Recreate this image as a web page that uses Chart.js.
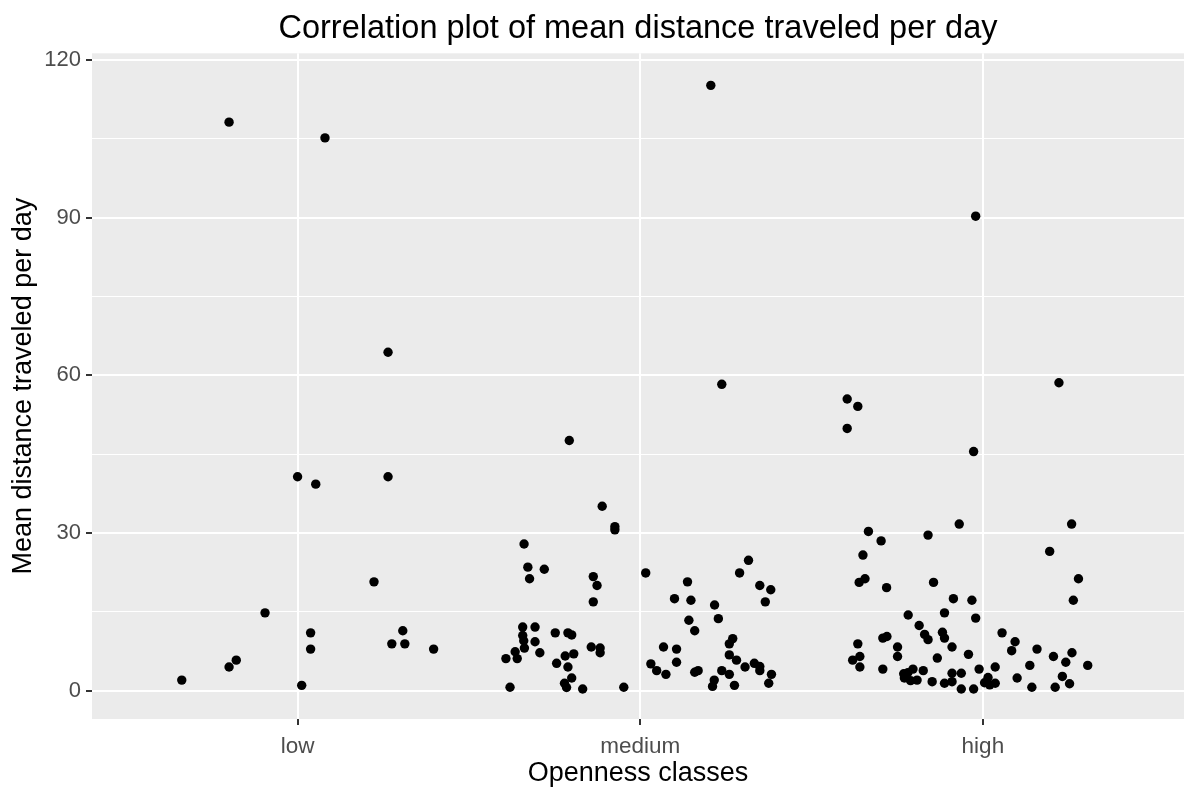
<!DOCTYPE html>
<html>
<head>
<meta charset="utf-8">
<script src="https://cdn.jsdelivr.net/npm/chart.js@4"></script>
<style>
  html, body { margin: 0; padding: 0; background: #ffffff; }
  #wrap { width: 1184px; height: 792px; }
</style>
</head>
<body>
<div id="wrap"><canvas id="chartDistance" width="1184" height="792"></canvas></div>
<script>
// Categories on the x axis (positions 1, 2, 3)
const categories = ['low', 'medium', 'high'];

// Each point: horizontal jitter around its category + mean distance per day
const lowJitter = [-0.20, 0.08, 0.264, 0.0, 0.053, 0.264, 0.223, -0.095, 0.038, 0.038,
  0.307, 0.275, 0.313, 0.397, -0.179, -0.20, -0.338, 0.012];
const lowDistance = [108.2, 105.2, 64.4, 40.7, 39.3, 40.7, 20.7, 14.8, 11.0, 7.9,
  11.4, 8.9, 8.9, 7.9, 5.8, 4.5, 2.0, 1.0];

const mediumJitter = [0.206, 0.238, -0.207, -0.111, -0.074, -0.074, -0.339, -0.328, -0.323, -0.280,
  -0.137, -0.126, -0.137, 0.016, 0.138, 0.100, 0.148, 0.217, 0.228, 0.142,
  0.159, 0.316, 0.290, 0.349, 0.381, 0.365,
  -0.343, -0.307, -0.343, -0.340, -0.307, -0.338, -0.365, -0.293, -0.392, -0.359,
  -0.380, -0.248, -0.211, -0.200, -0.143, -0.117, -0.117, -0.219, -0.194, -0.244,
  -0.211, -0.200, -0.221, -0.215, -0.168, -0.048,
  0.068, 0.106, 0.106, 0.031, 0.048, 0.075, 0.159, 0.169, 0.216, 0.211,
  0.275, 0.238, 0.260, 0.270, 0.260, 0.260, 0.281, 0.306, 0.333, 0.349,
  0.349, 0.383, 0.375];
const mediumDistance = [115.2, 58.3, 47.6, 35.1, 31.2, 30.6, 27.9, 23.5, 21.3, 23.1,
  21.7, 20.0, 16.9, 22.4, 20.7, 17.5, 17.2, 16.3, 13.7, 13.4,
  11.4, 24.8, 22.4, 20.0, 19.2, 16.9,
  12.1, 12.1, 10.5, 9.5, 9.3, 8.1, 7.4, 7.2, 6.1, 6.1,
  0.65, 11.0, 11.0, 10.6, 8.3, 8.1, 7.2, 6.6, 7.0, 5.2,
  4.5, 2.4, 1.4, 0.6, 0.3, 0.65,
  8.3, 7.9, 5.4, 5.1, 3.8, 3.1, 3.5, 3.8, 2.0, 0.8,
  1.0, 3.8, 3.1, 9.9, 8.9, 6.8, 5.8, 4.5, 5.2, 4.6,
  3.8, 3.1, 1.4];

const highJitter = [-0.396, -0.365, -0.396, -0.027, 0.222, -0.021, -0.069, 0.259, -0.334, -0.297,
  -0.160, -0.350, 0.195, 0.279, -0.361, -0.344, -0.281, -0.144, 0.264, -0.086,
  -0.032, -0.021, -0.112, -0.218, -0.186, -0.170, -0.160, -0.118, -0.112, -0.090,
  -0.292, -0.280, -0.249, -0.249, -0.365, -0.359, -0.380, -0.359, -0.292, -0.231,
  -0.219, -0.204, -0.229, -0.211, -0.192, -0.174, -0.148, -0.133, -0.112, -0.090,
  -0.090, -0.063, -0.063, -0.042, -0.027, -0.011, 0.015, 0.020, 0.036, 0.005,
  0.036, 0.056, 0.094, 0.084, 0.158, 0.137, 0.100, 0.143, 0.206, 0.260,
  0.242, 0.306, 0.232, 0.253, 0.211];
const highDistance = [55.5, 54.1, 49.9, 45.5, 58.6, 90.3, 31.7, 31.7, 30.3, 28.5,
  29.6, 25.8, 26.5, 21.3, 20.6, 21.3, 19.6, 20.6, 17.2, 17.5,
  17.2, 13.8, 14.8, 14.4, 12.4, 10.7, 9.7, 11.1, 10.0, 8.3,
  10.0, 10.3, 8.3, 6.5, 8.9, 6.5, 5.8, 4.5, 4.1, 3.2,
  3.4, 4.1, 2.4, 1.9, 2.0, 3.8, 1.7, 6.2, 1.4, 3.3,
  1.7, 3.3, 0.3, 6.9, 0.3, 4.1, 2.5, 1.1, 1.4, 1.5,
  4.5, 11.0, 9.3, 7.6, 7.9, 4.8, 2.4, 0.65, 6.5, 7.2,
  5.4, 4.8, 2.7, 1.3, 0.65];

// Y axis ticks: labelled every 30, minor lines every 15
const yTicks = [0, 15, 30, 45, 60, 75, 90, 105, 120];
const yLabelStep = 30;

const FONT = "'Liberation Sans', Arial, sans-serif";

function buildPoints(categoryIndex, jitter, values) {
  return values.map((v, i) => ({ x: categoryIndex + 1 + jitter[i], y: v }));
}

// grey panel behind the grid, like ggplot
const panelBackground = {
  id: 'panelBackground',
  beforeDraw(chart) {
    const { ctx, chartArea: a } = chart;
    ctx.save();
    ctx.fillStyle = '#EBEBEB';
    ctx.fillRect(a.left, a.top, a.right - a.left, a.bottom - a.top);
    ctx.restore();
  }
};

const groups = [
  [lowJitter, lowDistance],
  [mediumJitter, mediumDistance],
  [highJitter, highDistance]
];

const datasets = groups.map((g, i) => ({
  label: categories[i],
  data: buildPoints(i, g[0], g[1]),
  backgroundColor: '#000000',
  borderWidth: 0,
  pointRadius: 4.7,
  pointHoverRadius: 4.7
}));

new Chart(document.getElementById('chartDistance').getContext('2d'), {
  type: 'scatter',
  data: { datasets: datasets },
  plugins: [panelBackground],
  options: {
    responsive: false,
    animation: false,
    layout: { padding: 0, autoPadding: false },
    plugins: {
      legend: { display: false },
      tooltip: { enabled: false },
      title: {
        display: true,
        text: 'Correlation plot of mean distance traveled per day',
        fullSize: false,
        color: '#000000',
        font: { family: FONT, size: 32.5, weight: 'normal' },
        padding: { top: 10, bottom: 4.3 }
      }
    },
    scales: {
      x: {
        type: 'linear',
        min: 0.4,
        max: 3.587,
        afterBuildTicks(scale) {
          scale.ticks = categories.map((c, i) => ({ value: i + 1 }));
        },
        afterFit(scale) {
          scale.height = 73;
          scale.paddingLeft = 0;
          scale.paddingRight = 0;
        },
        ticks: {
          autoSkip: false,
          maxRotation: 0,
          padding: 8,
          color: '#4D4D4D',
          font: { family: FONT, size: 22.5 },
          callback: (value) => categories[value - 1]
        },
        grid: {
          color: '#FFFFFF',
          lineWidth: 2,
          tickLength: 6,
          tickColor: '#333333',
          tickWidth: 2
        },
        border: { display: false },
        title: {
          display: true,
          text: 'Openness classes',
          color: '#000000',
          font: { family: FONT, size: 27 },
          padding: { top: 0, bottom: 2 }
        }
      },
      y: {
        type: 'linear',
        min: -5.4,
        max: 121.3,
        afterBuildTicks(scale) {
          scale.ticks = yTicks.map(v => ({ value: v }));
        },
        afterFit(scale) {
          scale.width = 92;
          scale.paddingTop = 0;
          scale.paddingBottom = 0;
        },
        ticks: {
          autoSkip: false,
          padding: 5,
          color: '#4D4D4D',
          font: { family: FONT, size: 22 },
          callback: (value) => (value % yLabelStep === 0 ? value : '')
        },
        grid: {
          color: '#FFFFFF',
          lineWidth: (ctx) => (ctx.tick && ctx.tick.value % yLabelStep === 0 ? 2 : 1),
          tickLength: 6,
          tickColor: (ctx) => (ctx.tick && ctx.tick.value % yLabelStep === 0 ? '#333333' : 'rgba(0,0,0,0)'),
          tickWidth: 2
        },
        border: { display: false },
        title: {
          display: true,
          text: 'Mean distance traveled per day',
          color: '#000000',
          font: { family: FONT, size: 27 },
          padding: { top: 7, bottom: 0 }
        }
      }
    }
  }
});
</script>
</body>
</html>
